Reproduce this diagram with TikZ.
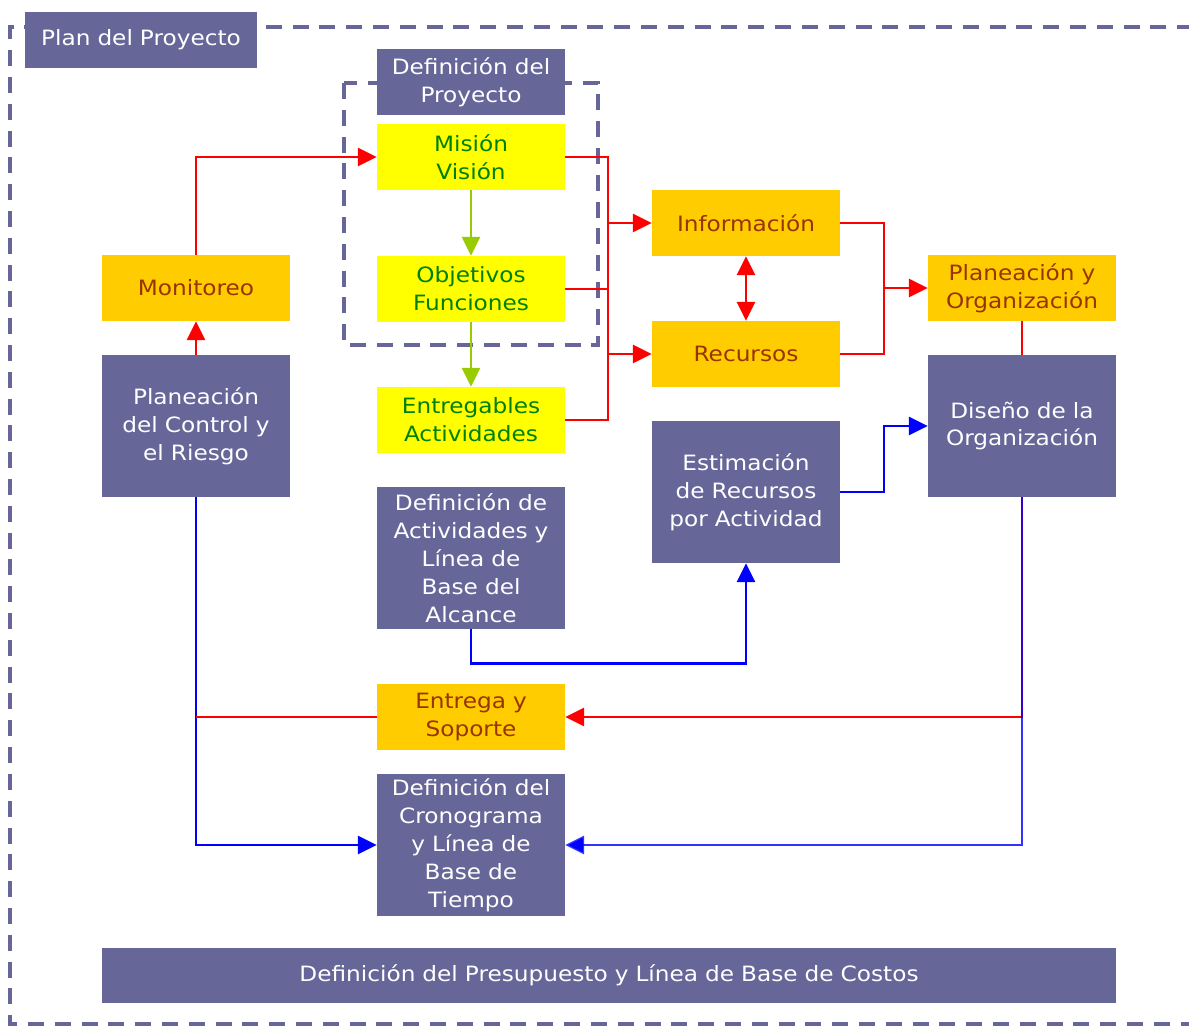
\documentclass[tikz,border=0pt]{standalone}
\usepackage{fontspec}
\setmainfont{DejaVu Sans}[FakeStretch=1.1]
\usepackage{xcolor}
\usepackage{tikz}
\usetikzlibrary{arrows.meta}
\definecolor{plum}{RGB}{102,102,153}
\definecolor{gold}{RGB}{255,204,0}
\definecolor{lemon}{RGB}{255,255,0}
\definecolor{leaf}{RGB}{0,128,0}
\definecolor{rust}{RGB}{153,51,0}
\definecolor{lime}{RGB}{153,204,0}
\tikzstyle{block} = [rectangle, fill=plum, text=white, minimum height=1.65cm,
minimum width=4.7cm, text width=4.6cm, align=center, inner sep=0pt,
font=\fontsize{15}{19.9}\selectfont]
\tikzstyle{tallblock} = [block, minimum height=3.55cm]
\tikzstyle{yblock} = [block, fill=lemon, text=leaf]
\tikzstyle{oblock} = [block, fill=gold, text=rust]
\tikzstyle{frame} = [draw=plum, line width=2.2pt, dash pattern=on 0.4cm off 0.27cm]
\tikzstyle{redline} = [draw=red, line width=1.9pt, >={Triangle[length=0.47cm,width=0.45cm]}]
\tikzstyle{blueline} = [redline, draw=blue]
\tikzstyle{greenline} = [redline, draw=lime]

\begin{document}
\begin{tikzpicture}[x=0.025cm, y=-0.025cm]
\useasboundingbox (0,0) rectangle (1189,1026);
\clip (0,0) rectangle (1189,1026);

% Frames
\draw [frame] (1220,27) -- (10,27) -- (10,1024) -- (1220,1024);
\draw [frame] (344,83) rectangle (598,345);

% Place nodes
\node [block, minimum width=5.8cm, text width=5.7cm, minimum height=1.375cm](plan) at (141,40){Plan del Proyecto};
\node [block](defproy) at (471,82){Definición del\\Proyecto};
\node [yblock](mision) at (471,157){Misión\\Visión};
\node [yblock](objetivos) at (471,289){Objetivos\\Funciones};
\node [yblock](entregables) at (471,420){Entregables\\Actividades};
\node [oblock](monitoreo) at (196,288){Monitoreo};
\node [tallblock](control) at (196,426){Planeación\\del Control y\\el Riesgo};
\node [oblock](info) at (746,223){Información};
\node [oblock](recursos) at (746,354){Recursos};
\node [oblock](planorg) at (1022,288){Planeación y\\Organización};
\node [tallblock](diseno) at (1022,426){Diseño de la\\Organización};
\node [tallblock](estimacion) at (746,492){Estimación\\de Recursos\\por Actividad};
\node [tallblock](actividades) at (471,558){Definición de\\Actividades y\\Línea de\\Base del\\Alcance};
\node [oblock](entrega) at (471,717){Entrega y\\Soporte};
\node [tallblock](crono) at (471,845){Definición del\\Cronograma\\y Línea de\\Base de\\Tiempo};
\node [block, minimum width=25.35cm, text width=25cm, minimum height=1.375cm](costos) at (609,975){Definición del Presupuesto y Línea de Base de Costos};

\coordinate (leftbus) at (608,157);
\coordinate (rightbus) at (884,223);

% Place lines
\draw [redline] (mision.east) -- (leftbus) |- (entregables.east);
\draw [redline] (objetivos.east) -- (objetivos.east -| leftbus);
\draw [redline, ->] (leftbus |- info.west) -- (info.west);
\draw [redline, ->] (leftbus |- recursos.west) -- (recursos.west);
\draw [redline] (info.east) -- (rightbus) |- (recursos.east);
\draw [redline, ->] (rightbus |- planorg.west) -- (planorg.west);
\draw [redline, <->] (info) -- (recursos);
\draw [redline, ->] (monitoreo.north) |- (mision.west);
\draw [redline, ->] (control) -- (monitoreo);
\draw [greenline, ->] (mision) -- (objetivos);
\draw [greenline, ->] (objetivos) -- (entregables);
\draw [redline] (planorg) -- (diseno);
\draw [blueline, ->] (estimacion.east) -| (rightbus |- diseno.west) -- (diseno.west);
\draw [blueline, ->] (actividades.south) -- ++(0,34) -| (estimacion.south);
\draw [blueline, ->] (control.south) |- (crono.west);
\draw [redline, ->] (diseno.south) |- (entrega.east);
\draw [blueline, draw opacity=0.8, ->] (diseno.south) |- (crono.east);
\draw [redline] (entrega.west) -- (entrega.west -| control.south);

\end{tikzpicture}
\end{document}
